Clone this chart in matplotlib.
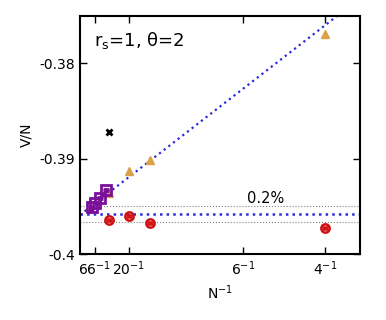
import numpy as np
import matplotlib
matplotlib.use("Agg")
from matplotlib import pyplot as plt

# data (x = 1/N, y = V/N)
tri_inv_n = [0.25, 0.0713, 0.05, 0.0295]
tri_vn = [-0.37696, -0.39016, -0.3913, -0.3936]

circ_inv_n = [0.0295, 0.05, 0.0713, 0.25]
circ_vn = [-0.39644, -0.3960, -0.39675, -0.3973]

sq_inv_n = [0.0264, 0.0203, 0.0152, 0.0121]
sq_vn = [-0.3933, -0.39414, -0.39466, -0.39508]

ptri_inv_n = [0.0115]
ptri_vn = [-0.3953]

cross_inv_n = [0.0295]
cross_vn = [-0.38723]

fit_intercept = -0.3959
fit_slope = 0.0795
e_inf = -0.3958
band = 0.002

tick_n = [66, 20, 6, 4]

fig = plt.figure(figsize=(3.86, 3.2), dpi=100)
ax = fig.add_axes([0.207, 0.206, 0.726, 0.745])

xs = np.array([0.0, 0.3])
ax.plot(xs, fit_intercept + fit_slope * xs, ls=':', color='#2a2ae0', lw=1.6, zorder=2)
ax.axhline(e_inf, ls=':', color='#2a2ae0', lw=1.8, zorder=2)
ax.axhline(e_inf * (1 + band), ls=':', color='gray', lw=0.8, zorder=1)
ax.axhline(e_inf * (1 - band), ls=':', color='gray', lw=0.8, zorder=1)

ax.plot(tri_inv_n, tri_vn, '^', color='#d9a24a', ms=6, ls='none', zorder=3)
ax.errorbar(circ_inv_n, circ_vn, yerr=0.0001, fmt='o', color='#d01010',
            mfc='none', mew=1.8, ms=6, capsize=2, elinewidth=1, zorder=4)
ax.errorbar(sq_inv_n, sq_vn, yerr=0.0001, fmt='s', color='#7a0f9a',
            mfc='none', mew=2, ms=6.5, capsize=2, elinewidth=1, zorder=4)
ax.plot(ptri_inv_n, ptri_vn, '^', color='#7a0f9a', ms=5, ls='none', zorder=4)
ax.plot(cross_inv_n, cross_vn, 'x', color='black', ms=5, mew=2, ls='none', zorder=4)

ax.text(0.171, -0.3946, '0.2%', fontsize=10.5)
ax.text(0.05, 0.94, r'r$_\mathrm{s}$=1, θ=2', transform=ax.transAxes,
        fontsize=13, va='top')

ax.set_xlim(0, 0.286)
ax.set_ylim(-0.4, -0.375)
ax.set_xticks([1.0 / n for n in tick_n])
ax.set_xticklabels([r'$%d^{-1}$' % n for n in tick_n])
ax.set_yticks([-0.4, -0.39, -0.38])
ax.set_yticklabels(['-0.4', '-0.39', '-0.38'])
ax.tick_params(direction='in', top=True, right=True, length=5, width=1, labelsize=10)
for s in ax.spines.values():
    s.set_linewidth(1.5)

ax.set_xlabel(r'N$^{-1}$', fontsize=10)
ax.set_ylabel('V/N', fontsize=10)

fig.savefig('out.png', dpi=100)
